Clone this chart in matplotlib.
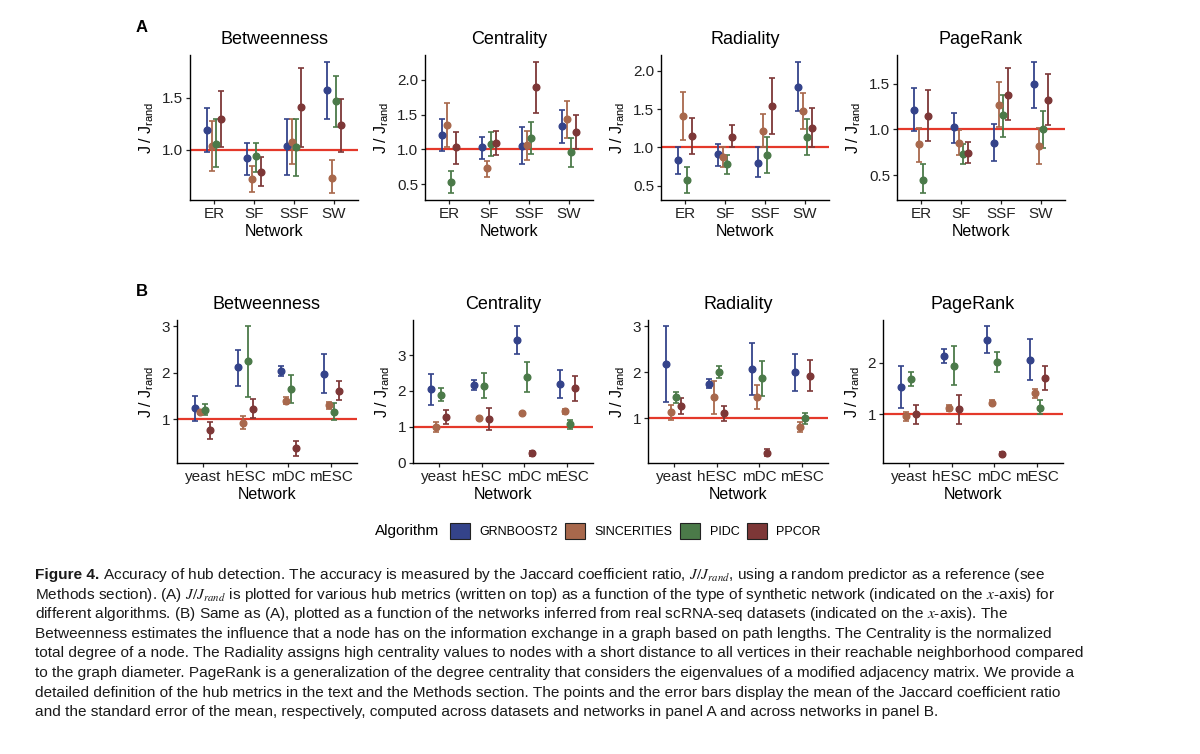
import numpy as np
import matplotlib.pyplot as plt
from matplotlib.patches import Patch
from matplotlib.ticker import MultipleLocator

plt.rcParams['font.family'] = ['Liberation Sans', 'DejaVu Sans']
plt.rcParams['mathtext.fontset'] = 'stix'

algorithms = ["GRNBOOST2", "SINCERITIES", "PIDC", "PPCOR"]
colors = ["#34438a", "#a8684c", "#4b7a49", "#7d3737"]
metrics = ["Betweenness", "Centrality", "Radiality", "PageRank"]
networks_A = ["ER", "SF", "SSF", "SW"]
networks_B = ["yeast", "hESC", "mDC", "mESC"]

# rows = networks, columns = algorithms (GRNBOOST2, SINCERITIES, PIDC, PPCOR)
# panel A, synthetic networks
betw_A_mean = [[1.19, 1.04, 1.06, 1.30], [0.92, 0.72, 0.94, 0.79],
               [1.04, 1.08, 1.03, 1.41], [1.58, 0.73, 1.47, 1.24]]
betw_A_hi = [[1.40, 1.28, 1.30, 1.57], [1.07, 0.84, 1.07, 0.93],
             [1.30, 1.30, 1.30, 1.79], [1.85, 0.90, 1.71, 1.49]]
betw_A_lo = [[0.98, 0.80, 0.83, 1.03], [0.76, 0.59, 0.79, 0.65],
             [0.76, 0.86, 0.75, 1.03], [1.30, 0.58, 1.22, 0.98]]

cent_A_mean = [[1.21, 1.35, 0.53, 1.03], [1.03, 0.73, 1.08, 1.09],
               [1.05, 1.06, 1.17, 1.89], [1.33, 1.43, 0.96, 1.25]]
cent_A_hi = [[1.44, 1.67, 0.69, 1.25], [1.18, 0.84, 1.25, 1.27],
             [1.32, 1.27, 1.40, 2.26], [1.57, 1.70, 1.17, 1.50]]
cent_A_lo = [[0.98, 1.03, 0.37, 0.79], [0.86, 0.61, 0.91, 0.92],
             [0.79, 0.85, 0.93, 1.52], [1.09, 1.17, 0.75, 1.01]]

rad_A_mean = [[0.83, 1.41, 0.57, 1.15], [0.91, 0.88, 0.78, 1.14],
              [0.80, 1.22, 0.90, 1.54], [1.79, 1.48, 1.14, 1.25]]
rad_A_hi = [[1.01, 1.72, 0.75, 1.38], [1.05, 1.00, 0.90, 1.29],
            [1.00, 1.44, 1.14, 1.91], [2.12, 1.71, 1.37, 1.52]]
rad_A_lo = [[0.65, 1.10, 0.40, 0.92], [0.76, 0.75, 0.65, 1.00],
            [0.62, 1.00, 0.67, 1.17], [1.47, 1.24, 0.90, 1.00]]

pr_A_mean = [[1.21, 0.84, 0.45, 1.15], [1.03, 0.85, 0.73, 0.74],
             [0.85, 1.27, 1.16, 1.38], [1.49, 0.82, 1.00, 1.32]]
pr_A_hi = [[1.45, 1.02, 0.62, 1.43], [1.18, 0.99, 0.84, 0.86],
           [1.06, 1.52, 1.38, 1.67], [1.74, 1.02, 1.20, 1.60]]
pr_A_lo = [[0.98, 0.64, 0.30, 0.87], [0.85, 0.72, 0.62, 0.63],
           [0.65, 1.03, 0.92, 1.10], [1.23, 0.62, 0.80, 1.05]]

# panel B, networks inferred from real scRNA-seq data
betw_B_mean = [[1.25, 1.15, 1.20, 0.76], [2.12, 0.92, 2.24, 1.23],
               [2.04, 1.39, 1.65, 0.38], [1.98, 1.30, 1.16, 1.60]]
betw_B_hi = [[1.50, 1.18, 1.32, 0.93], [2.49, 1.07, 2.99, 1.43],
             [2.14, 1.48, 1.95, 0.53], [2.40, 1.37, 1.35, 1.81]]
betw_B_lo = [[0.97, 1.11, 1.09, 0.58], [1.72, 0.78, 1.48, 1.02],
             [1.92, 1.32, 1.34, 0.20], [1.56, 1.23, 0.99, 1.41]]

cent_B_mean = [[2.06, 1.00, 1.90, 1.28], [2.18, 1.24, 2.15, 1.21],
               [3.43, 1.39, 2.39, 0.26], [2.20, 1.44, 1.07, 2.07]]
cent_B_hi = [[2.48, 1.13, 2.08, 1.46], [2.31, 1.28, 2.50, 1.53],
             [3.80, 1.40, 2.81, 0.33], [2.59, 1.50, 1.19, 2.42]]
cent_B_lo = [[1.62, 0.86, 1.71, 1.09], [2.02, 1.20, 1.80, 0.91],
             [3.02, 1.38, 1.96, 0.17], [1.81, 1.37, 0.94, 1.72]]

rad_B_mean = [[2.17, 1.13, 1.45, 1.27], [1.74, 1.45, 2.01, 1.11],
              [2.07, 1.46, 1.87, 0.24], [2.00, 0.81, 1.00, 1.92]]
rad_B_hi = [[3.00, 1.29, 1.56, 1.43], [1.85, 1.81, 2.13, 1.27],
            [2.64, 1.72, 2.24, 0.33], [2.41, 0.91, 1.12, 2.26]]
rad_B_lo = [[1.34, 0.96, 1.32, 1.09], [1.65, 1.09, 1.88, 0.93],
            [1.51, 1.19, 1.49, 0.16], [1.60, 0.70, 0.86, 1.58]]

pr_B_mean = [[1.53, 0.97, 1.69, 1.00], [2.13, 1.13, 1.95, 1.10],
             [2.45, 1.23, 2.01, 0.23], [2.06, 1.41, 1.13, 1.71]]
pr_B_hi = [[1.94, 1.05, 1.83, 1.19], [2.28, 1.18, 2.34, 1.37],
           [2.71, 1.28, 2.21, 0.27], [2.47, 1.50, 1.28, 1.95]]
pr_B_lo = [[1.13, 0.88, 1.55, 0.81], [1.99, 1.06, 1.58, 0.82],
           [2.19, 1.18, 1.83, 0.18], [1.66, 1.32, 1.00, 1.47]]

caption_rest = [
    " Accuracy of hub detection. The accuracy is measured by the Jaccard coefficient ratio, $J/J_{rand}$, using a random predictor as a reference (see",
    "Methods section). (A) $J/J_{rand}$ is plotted for various hub metrics (written on top) as a function of the type of synthetic network (indicated on the $x$-axis) for",
    "different algorithms. (B) Same as (A), plotted as a function of the networks inferred from real scRNA-seq datasets (indicated on the $x$-axis). The",
    "Betweenness estimates the influence that a node has on the information exchange in a graph based on path lengths. The Centrality is the normalized",
    "total degree of a node. The Radiality assigns high centrality values to nodes with a short distance to all vertices in their reachable neighborhood compared",
    "to the graph diameter. PageRank is a generalization of the degree centrality that considers the eigenvalues of a modified adjacency matrix. We provide a",
    "detailed definition of the hub metrics in the text and the Methods section. The points and the error bars display the mean of the Jaccard coefficient ratio",
    "and the standard error of the mean, respectively, computed across datasets and networks in panel A and across networks in panel B.",
]

panels_A = [(betw_A_mean, betw_A_lo, betw_A_hi), (cent_A_mean, cent_A_lo, cent_A_hi),
            (rad_A_mean, rad_A_lo, rad_A_hi), (pr_A_mean, pr_A_lo, pr_A_hi)]
panels_B = [(betw_B_mean, betw_B_lo, betw_B_hi), (cent_B_mean, cent_B_lo, cent_B_hi),
            (rad_B_mean, rad_B_lo, rad_B_hi), (pr_B_mean, pr_B_lo, pr_B_hi)]

W, H = 1200, 754
fig = plt.figure(figsize=(12, 7.54), dpi=100)


def px_axes(left, top, width, height):
    return fig.add_axes([left / W, 1 - (top + height) / H, width / W, height / H])


def draw_panel(ax, title, nets, mean, lo, hi, step):
    mean, lo, hi = np.array(mean), np.array(lo), np.array(hi)
    base = np.arange(1, len(nets) + 1)
    for j, c in enumerate(colors):
        x = base + (j - 1.5) * 0.12
        ax.errorbar(x, mean[:, j], yerr=[mean[:, j] - lo[:, j], hi[:, j] - mean[:, j]],
                    fmt='o', color=c, ms=4.8, capsize=2.3, elinewidth=1.3,
                    capthick=1.2, zorder=3)
    ax.axhline(1, color='#e4382a', lw=1.6, zorder=2)
    span = hi.max() - lo.min()
    ax.set_ylim(lo.min() - 0.05 * span, hi.max() + 0.05 * span)
    ax.set_xlim(0.4, len(nets) + 0.6)
    ax.set_xticks(base, nets)
    ax.yaxis.set_major_locator(MultipleLocator(step))
    if step < 1:
        ax.yaxis.set_major_formatter(plt.FormatStrFormatter('%.1f'))
    for s in ['top', 'right']:
        ax.spines[s].set_visible(False)
    for s in ['left', 'bottom']:
        ax.spines[s].set_linewidth(1.0)
    ax.tick_params(labelsize=11, length=3, width=0.9, pad=2, colors='#222222',
                   labelcolor='#222222')
    ax.set_title(title, fontsize=13, pad=8)
    ax.set_xlabel("Network", fontsize=11.5, labelpad=2.5)
    ax.set_ylabel(r"$\mathregular{J\ /\ J_{rand}}$", fontsize=11.5, labelpad=4)


lefts_A = [190, 425, 661, 897]
lefts_B = [177, 413, 648, 883]
for k in range(4):
    axA = px_axes(lefts_A[k], 55, 168, 145)
    draw_panel(axA, metrics[k], networks_A, *panels_A[k], 0.5)
    axB = px_axes(lefts_B[k], 320, 180, 143)
    draw_panel(axB, metrics[k], networks_B, *panels_B[k], 1)

fig.text(136 / W, 1 - 28 / H, "A", fontsize=12, weight='bold', va='center')
fig.text(136 / W, 1 - 291 / H, "B", fontsize=12, weight='bold', va='center')

# legend
fig.text(375 / W, 1 - 531 / H, "Algorithm", fontsize=11, va='center')
handles = [Patch(facecolor=c, edgecolor='#222222', lw=0.8) for c in colors]
fig.legend(handles, algorithms, loc='center left', bbox_to_anchor=(450 / W, 1 - 531 / H),
           ncol=4, frameon=False, fontsize=9, handlelength=1.6, handleheight=1.6,
           handletextpad=0.75, columnspacing=0.6, borderaxespad=0, borderpad=0)

# caption
cap_size = 11.05
y0, dy = 579, 19.6
head = fig.text(35 / W, 1 - y0 / H, "Figure 4.", fontsize=cap_size, weight='bold',
                va='baseline', color='#1a1a1a')
fig.canvas.draw()
bb = head.get_window_extent(fig.canvas.get_renderer())
for i, line in enumerate(caption_rest):
    x = bb.x1 / W if i == 0 else 35 / W
    fig.text(x, 1 - (y0 + i * dy) / H, line, fontsize=cap_size, va='baseline',
             color='#1a1a1a')

plt.savefig("out.png", dpi=100)
